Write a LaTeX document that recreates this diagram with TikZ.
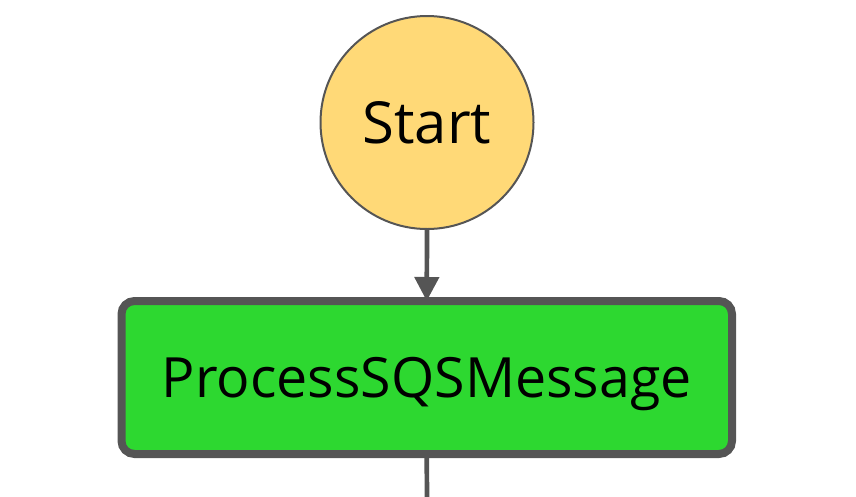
\documentclass[tikz,border=0pt]{standalone}
\usepackage{fontspec}
\setmainfont{Open Sans}
\usetikzlibrary{arrows.meta}
\definecolor{edgegray}{HTML}{555555}
\definecolor{startfill}{HTML}{FFD977}
\definecolor{taskfill}{HTML}{2DD830}
\tikzset{
  startstate/.style={circle,draw=edgegray,line width=2pt,fill=startfill,minimum size=213pt,inner sep=0pt,text depth=0pt,font=\fontsize{58}{60}\selectfont},
  taskstate/.style={rectangle,rounded corners=13pt,draw=edgegray,line width=8pt,fill=taskfill,minimum width=610.5pt,minimum height=153pt,inner sep=0pt,text depth=0pt,font=\fontsize{55.5}{60}\selectfont},
  flow/.style={draw=edgegray,line width=4.7pt,-{Triangle[width=24pt,length=24pt]},shorten >=-4pt},
  plainflow/.style={draw=edgegray,line width=4.7pt}
}
\begin{document}
\begin{tikzpicture}[x=1pt,y=-1pt]
\useasboundingbox (0,0) rectangle (856,496);
\node[startstate] (start) at (427,122.5) {Start};
\node[taskstate] (proc) at (426.75,377.5) {ProcessSQSMessage};
\coordinate (out) at (427,500);
\draw[flow] (start.south) -- (proc.north);
\draw[plainflow] (proc.south) -- (out);
\end{tikzpicture}
\end{document}
